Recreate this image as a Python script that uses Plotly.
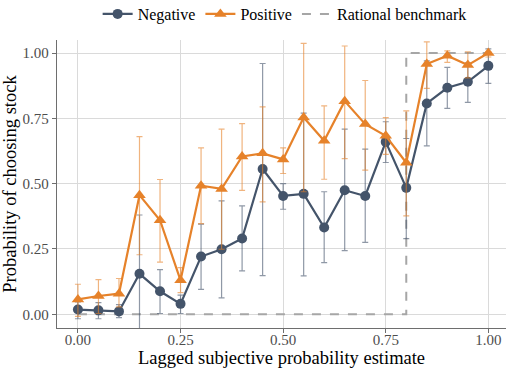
import plotly.graph_objects as go

x_vals = [0.00, 0.05, 0.10, 0.15, 0.20, 0.25, 0.30, 0.35, 0.40, 0.45, 0.50,
          0.55, 0.60, 0.65, 0.70, 0.75, 0.80, 0.85, 0.90, 0.95, 1.00]

neg_mean = [0.018, 0.015, 0.011, 0.155, 0.088, 0.040, 0.221, 0.249, 0.290, 0.556, 0.453,
            0.461, 0.332, 0.475, 0.453, 0.660, 0.484, 0.807, 0.867, 0.890, 0.951]
neg_hi = [0.047, 0.045, 0.037, 0.380, 0.171, 0.073, 0.345, 0.434, 0.415, 0.960, 0.500,
          0.770, 0.469, 0.709, 0.632, 0.737, 0.673, 0.970, 0.945, 0.963, 1.016]
neg_lo = [-0.017, -0.017, -0.013, -0.080, 0.003, 0.003, 0.095, 0.063, 0.166, 0.148, 0.402,
          0.147, 0.198, 0.244, 0.275, 0.581, 0.290, 0.645, 0.788, 0.811, 0.884]

pos_mean = [0.057, 0.070, 0.079, 0.456, 0.360, 0.130, 0.492, 0.480, 0.604, 0.616, 0.593,
            0.753, 0.664, 0.816, 0.728, 0.683, 0.580, 0.958, 0.990, 0.954, 1.000]
pos_hi = [0.115, 0.133, 0.137, 0.680, 0.516, 0.179, 0.637, 0.709, 0.730, 0.794, 0.637,
          1.037, 0.798, 1.027, 0.895, 0.753, 0.779, 1.043, 1.008, 1.005, 1.005]
pos_lo = [-0.008, 0.003, 0.028, 0.228, 0.200, 0.083, 0.347, 0.249, 0.474, 0.430, 0.539,
          0.469, 0.517, 0.596, 0.552, 0.612, 0.377, 0.865, 0.964, 0.905, 0.985]

bench_x = [0.0, 0.8, 0.8, 1.0]
bench_y = [0.0, 0.0, 1.0, 1.0]

tick_vals = [0.0, 0.25, 0.5, 0.75, 1.0]
tick_text = ["0.00", "0.25", "0.50", "0.75", "1.00"]

NEG = "#44546A"
POS = "#E6822A"
FONT = "Liberation Serif, Times New Roman, serif"

fig = go.Figure()

fig.add_trace(go.Scatter(
    x=bench_x, y=bench_y, mode="lines", name="Rational benchmark",
    line=dict(color="#A6A6A6", width=2, dash="dash"), legendrank=3,
))

fig.add_trace(go.Scatter(
    x=x_vals, y=neg_mean, mode="lines+markers", name="Negative",
    line=dict(color=NEG, width=2.2),
    marker=dict(symbol="circle", size=10, color=NEG),
    error_y=dict(type="data", symmetric=False,
                 array=[h - m for h, m in zip(neg_hi, neg_mean)],
                 arrayminus=[m - l for m, l in zip(neg_mean, neg_lo)],
                 color="rgba(68,84,106,0.6)", thickness=1.2, width=3),
    legendrank=1,
))

fig.add_trace(go.Scatter(
    x=x_vals, y=pos_mean, mode="lines+markers", name="Positive",
    line=dict(color=POS, width=2.2),
    marker=dict(symbol="triangle-up", size=11, color=POS),
    error_y=dict(type="data", symmetric=False,
                 array=[h - m for h, m in zip(pos_hi, pos_mean)],
                 arrayminus=[m - l for m, l in zip(pos_mean, pos_lo)],
                 color="rgba(230,130,42,0.6)", thickness=1.2, width=3),
    legendrank=2,
))

axis_common = dict(
    showgrid=True, gridcolor="#DADADA", gridwidth=1.2,
    showline=True, linecolor="#6E6E6E", linewidth=1.3,
    ticks="outside", ticklen=4, tickcolor="#6E6E6E", tickwidth=1.2,
    zeroline=False,
    tickfont=dict(family=FONT, size=15, color="#4D4D4D"),
    tickvals=tick_vals, ticktext=tick_text,
)

fig.update_layout(
    width=506, height=368, autosize=False,
    margin=dict(l=57, r=0, t=40, b=40),
    paper_bgcolor="white", plot_bgcolor="white",
    font=dict(family=FONT, color="black"),
    xaxis=dict(range=[-0.051, 1.043],
               title=dict(text="Lagged subjective probability estimate",
                          font=dict(family=FONT, size=18.5, color="black"), standoff=5),
               ticklabelstandoff=-6,
               **axis_common),
    yaxis=dict(range=[-0.0525, 1.05],
               title=dict(text="Probability of choosing stock",
                          font=dict(family=FONT, size=18.5, color="black"), standoff=2),
               **axis_common),
    showlegend=True,
    legend=dict(orientation="h", x=0.507, xanchor="center",
                yref="container", y=0.962, yanchor="middle",
                font=dict(family=FONT, size=16, color="black"),
                bgcolor="rgba(0,0,0,0)", itemwidth=30, tracegroupgap=0),
)

fig.write_html("out.html")
